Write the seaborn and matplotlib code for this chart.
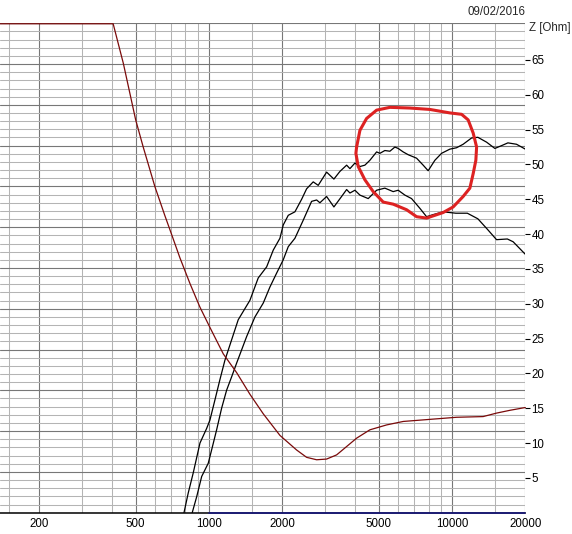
import numpy as np
import pandas as pd
import matplotlib
matplotlib.use("Agg")
import matplotlib.pyplot as plt
import seaborn as sns
from matplotlib.ticker import FixedLocator, FixedFormatter, MultipleLocator, NullFormatter

# ---------------- data ----------------
# impedance curve (dark red), Z in Ohm
imp_freq = [138.4, 404, 445, 500, 537, 600, 660, 692, 760, 836, 919, 1010, 1146, 1301,
            1475, 1673, 1959, 2295, 2522, 2773, 3048, 3351, 3684, 4049, 4592, 5376,
            6293, 8103, 10430, 13415, 15230, 17280, 20000]
imp_z = [70.2, 70.2, 64.5, 56.4, 52.5, 46.8, 42.6, 40.6, 36.6, 32.9, 29.5, 26.6, 22.8,
         20.1, 17.0, 14.2, 11.1, 9.0, 7.95, 7.6, 7.7, 8.3, 9.5, 10.7, 11.9, 12.6,
         13.1, 13.4, 13.7, 13.8, 14.3, 14.7, 15.1]

# upper response curve (black)
resp1_freq = [790, 822, 862, 919, 979, 1010, 1059, 1110, 1164, 1320, 1475, 1595, 1728,
              1839, 1959, 2021, 2120, 2258, 2406, 2522, 2685, 2815, 3048, 3266, 3457,
              3684, 3801, 3985, 4178, 4379, 4592, 4893, 5049, 5290, 5549, 5817, 6002,
              6293, 6597, 7144, 7603, 7972, 8495, 9051, 9790, 10430, 11100, 12020,
              12760, 13860, 14990, 16210, 16960, 18400, 20000]
resp1_z = [0.0, 2.8, 5.7, 10.0, 12.1, 13.3, 16.2, 19.1, 21.9, 27.7, 30.5, 33.7, 35.3,
           37.7, 39.4, 41.3, 42.7, 43.2, 45.0, 46.5, 47.5, 47.0, 48.9, 47.9, 49.0,
           49.9, 49.4, 50.2, 49.7, 49.9, 50.6, 51.8, 51.6, 52.0, 51.9, 52.5, 52.3,
           51.8, 51.4, 50.9, 49.9, 49.1, 50.6, 51.6, 52.2, 52.4, 52.9, 53.8,
           53.9, 53.2, 52.3, 52.8, 53.1, 52.9, 52.2]

# lower response curve (black)
resp2_freq = [854, 891, 934, 994, 1026, 1076, 1128, 1183, 1240, 1301, 1430, 1546, 1673,
              1782, 1899, 2021, 2120, 2258, 2443, 2644, 2773, 2861, 3048, 3266, 3512,
              3684, 3801, 3985, 4178, 4519, 4893, 5290, 5549, 5723, 6002, 6395, 6812,
              7371, 7852, 8359, 9189, 10360, 11550, 12760, 13960, 15230, 16870,
              17820, 20000]
resp2_z = [0.0, 2.3, 5.2, 7.1, 9.0, 11.9, 15.0, 17.6, 19.5, 21.5, 25.3, 28.1, 30.1,
           32.4, 34.4, 36.3, 38.2, 39.4, 42.0, 44.7, 44.9, 44.5, 45.4, 43.9, 45.4,
           46.4, 45.9, 46.3, 45.6, 45.1, 46.3, 46.6, 46.3, 46.1, 46.3, 45.6, 45.1,
           43.7, 42.5, 42.8, 43.2, 43.0, 43.0, 42.2, 40.7, 39.2, 39.3,
           38.9, 37.1]

# trace lying on the bottom edge (navy)
base_freq = [1000, 20000]
base_z = [0.0, 0.0]

# hand-drawn red circle annotation
circle_freq = [4049, 4178, 4449, 4893, 5549, 6706, 8103, 9790, 10940, 11640, 12210,
               12610, 12520, 12210, 11830, 11100, 10100, 9189, 8495, 7852, 7144,
               6498, 5723, 5208, 4738, 4379, 4111, 4022, 4049]
circle_z = [52.5, 54.9, 56.6, 57.8, 58.2, 58.1, 57.9, 57.4, 57.2, 56.4, 54.5,
            52.5, 50.6, 48.7, 46.6, 45.4, 43.9, 43.1, 42.7, 42.3, 42.5,
            43.5, 44.3, 44.6, 46.1, 47.8, 49.7, 51.6, 52.5]

x_major = [200, 500, 1000, 2000, 5000, 10000, 20000]
x_major_labels = ["200", "500", "1000", "2000", "5000", "10000", "20000"]
x_minor = [150, 300, 400, 600, 700, 800, 900, 1500, 3000, 4000, 6000, 7000, 8000,
           9000, 15000]
z_ticks = [5, 10, 15, 20, 25, 30, 35, 40, 45, 50, 55, 60, 65]
date_text = "09/02/2016"
z_label = "Z [Ohm]"

# ---------------- figure ----------------
sns.set_style("white")
plt.rcParams["font.family"] = ["Liberation Sans", "DejaVu Sans"]
FS = 8.3

fig = plt.figure(figsize=(5.72, 5.34), dpi=100)
ax = fig.add_axes([0.0, 0.0399, 0.9184, 0.9165])
ax.set_xscale("log")
ax.set_xlim(138.4, 20000)
ax.set_ylim(0, 60)
ax.xaxis.set_major_locator(FixedLocator(x_major))
ax.xaxis.set_major_formatter(FixedFormatter(x_major_labels))
ax.xaxis.set_minor_locator(FixedLocator(x_minor))
ax.xaxis.set_minor_formatter(NullFormatter())
ax.yaxis.set_major_locator(MultipleLocator(5))
ax.yaxis.set_minor_locator(MultipleLocator(1))
ax.grid(which="major", color="#777777", lw=0.8)
ax.grid(which="minor", color="#b4b4b4", lw=0.75)
ax.tick_params(axis="both", which="both", length=0)
ax.tick_params(axis="y", labelleft=False)
ax.tick_params(axis="x", labelsize=FS, pad=4, colors="black")
for s in ["left", "top", "right"]:
    ax.spines[s].set_visible(False)
ax.spines["bottom"].set_color("black")
ax.spines["bottom"].set_linewidth(1.1)
ax.set_axisbelow(True)

ax2 = ax.twinx()
ax2.set_ylim(0, 70.27)
for s in ax2.spines.values():
    s.set_visible(False)

df_imp = pd.DataFrame({"f": imp_freq, "z": imp_z})
df_r1 = pd.DataFrame({"f": resp1_freq, "z": resp1_z})
df_r2 = pd.DataFrame({"f": resp2_freq, "z": resp2_z})
df_base = pd.DataFrame({"f": base_freq, "z": base_z})
df_circ = pd.DataFrame({"f": circle_freq, "z": circle_z})

sns.lineplot(data=df_base, x="f", y="z", ax=ax2, color="#1a1a80", lw=1.2,
             estimator=None, sort=False, clip_on=False)
sns.lineplot(data=df_r1, x="f", y="z", ax=ax2, color="black", lw=0.9,
             estimator=None, sort=False)
sns.lineplot(data=df_r2, x="f", y="z", ax=ax2, color="black", lw=0.9,
             estimator=None, sort=False)
sns.lineplot(data=df_imp, x="f", y="z", ax=ax2, color="#7a0a0a", lw=0.9,
             estimator=None, sort=False, clip_on=False)
sns.lineplot(data=df_circ, x="f", y="z", ax=ax2, color="#dd2222", lw=2.2,
             estimator=None, sort=False, solid_joinstyle="round",
             solid_capstyle="round")

ax2.set_ylim(0, 70.27)
ax2.set_xlim(138.4, 20000)
ax2.yaxis.set_major_locator(FixedLocator(z_ticks))
ax2.yaxis.set_major_formatter(FixedFormatter([str(t) for t in z_ticks]))
ax2.tick_params(axis="y", which="major", direction="out", length=3.5, width=0.8,
                pad=1, labelsize=FS, colors="black", right=True)
ax2.set_ylabel("")
ax2.set_xlabel("")
ax.set_xlabel("")
ax.set_ylabel("")

fig.text(525.7 / 572, 1 - 11.7 / 534, date_text, ha="right", va="center", fontsize=FS)
fig.text(529.0 / 572, 1 - 28.5 / 534, z_label, ha="left", va="center", fontsize=FS)

fig.savefig("out.png", dpi=100, facecolor="white")
